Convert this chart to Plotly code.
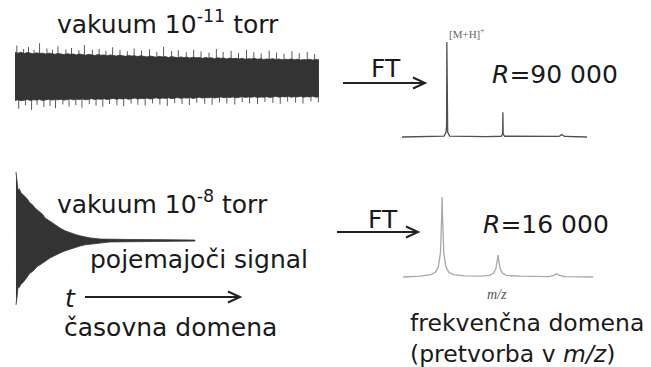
import plotly.graph_objects as go

W, H = 651, 367

# ---- time domain: ion transients (t in ms, amplitude in a.u.) ----
fid_t = list(range(0, 500, 5))
fid_upper = [0.86, 0.84, 0.87, 0.83, 0.86, 0.85, 0.82, 0.85, 0.83, 0.84,
             0.81, 0.84, 0.82, 0.80, 0.83, 0.81, 0.79, 0.82, 0.80, 0.81,
             0.78, 0.81, 0.79, 0.77, 0.80, 0.78, 0.76, 0.79, 0.77, 0.78,
             0.75, 0.78, 0.76, 0.74, 0.77, 0.75, 0.73, 0.76, 0.74, 0.75,
             0.72, 0.75, 0.73, 0.71, 0.74, 0.72, 0.70, 0.73, 0.71, 0.72,
             0.69, 0.72, 0.70, 0.68, 0.71, 0.69, 0.70, 0.67, 0.70, 0.68,
             0.69, 0.66, 0.69, 0.67, 0.68, 0.65, 0.68, 0.66, 0.67, 0.64,
             0.67, 0.65, 0.66, 0.64, 0.66, 0.63, 0.65, 0.64, 0.66, 0.63,
             0.65, 0.62, 0.64, 0.63, 0.65, 0.62, 0.64, 0.61, 0.63, 0.62,
             0.64, 0.61, 0.63, 0.60, 0.62, 0.61, 0.63, 0.60, 0.62, 0.61]
fid_lower = [-0.79, -0.77, -0.80, -0.78, -0.76, -0.79, -0.77, -0.78, -0.76, -0.79,
             -0.77, -0.75, -0.78, -0.76, -0.77, -0.75, -0.78, -0.76, -0.74, -0.77,
             -0.75, -0.76, -0.74, -0.77, -0.75, -0.73, -0.76, -0.74, -0.75, -0.73,
             -0.76, -0.74, -0.72, -0.75, -0.73, -0.74, -0.72, -0.75, -0.73, -0.71,
             -0.74, -0.72, -0.73, -0.71, -0.74, -0.72, -0.70, -0.73, -0.71, -0.72,
             -0.70, -0.73, -0.71, -0.69, -0.72, -0.70, -0.71, -0.69, -0.72, -0.70,
             -0.68, -0.71, -0.69, -0.70, -0.68, -0.71, -0.69, -0.67, -0.70, -0.68,
             -0.69, -0.67, -0.70, -0.68, -0.66, -0.69, -0.67, -0.68, -0.66, -0.69,
             -0.67, -0.68, -0.66, -0.69, -0.67, -0.65, -0.68, -0.66, -0.67, -0.65,
             -0.68, -0.66, -0.67, -0.65, -0.68, -0.66, -0.67, -0.65, -0.68, -0.66]

# noise spikes poking out of the envelope
spk_up_t = [3, 14, 22, 31, 40, 52, 61, 70, 83, 92, 104, 113, 126, 137, 148,
            159, 171, 183, 194, 206, 219, 231, 242, 255, 266, 279, 291, 303, 316, 328,
            339, 352, 364, 377, 389, 401, 414, 426, 438, 451, 463, 476, 488]
spk_up = [1.10, 0.98, 1.05, 0.95, 1.18, 1.00, 0.96, 1.08, 0.97, 1.02, 0.94, 1.12, 0.96, 0.99, 0.92,
          1.04, 0.95, 0.90, 1.00, 0.93, 0.97, 0.88, 1.06, 0.91, 0.94, 0.87, 0.96, 0.90, 0.86, 0.98,
          0.88, 0.92, 0.85, 0.95, 0.87, 0.83, 0.93, 0.86, 0.82, 0.90, 0.84, 0.88, 0.81]
spk_dn_t = [6, 17, 27, 36, 47, 57, 66, 78, 88, 99, 109, 121, 132, 143, 154,
            166, 177, 189, 200, 212, 224, 236, 248, 260, 272, 284, 296, 309, 321, 333,
            345, 358, 370, 382, 395, 407, 420, 432, 444, 457, 469, 482, 494]
spk_dn = [-1.08, -0.96, -1.12, -0.94, -1.02, -0.98, -1.06, -0.93, -1.00, -0.95, -1.04, -0.92, -0.97, -1.01, -0.91,
          -0.96, -0.99, -0.90, -0.94, -0.97, -0.89, -0.93, -0.98, -0.88, -0.92, -0.95, -0.87, -0.91, -0.94, -0.86,
          -0.90, -0.93, -0.85, -0.89, -0.92, -0.84, -0.88, -0.91, -0.83, -0.87, -0.90, -0.82, -0.86]

# decaying transient at the higher pressure
dec_t = [1.6, 3.3, 4.9, 7, 9.8, 12, 16.3, 19, 24.4, 28, 32.6, 36, 40.7, 45, 48.9,
         53, 57, 65, 73.3, 81, 89.6, 98, 105.9, 114, 122.2, 138.5, 154.8, 187, 236, 293]
dec_upper = [2.36, 1.98, 1.74, 1.78, 1.64, 1.60, 1.50, 1.46, 1.29, 1.24, 1.12, 1.06,
             0.95, 0.90, 0.78, 0.72, 0.64, 0.54, 0.43, 0.34, 0.26, 0.21, 0.16, 0.12,
             0.09, 0.05, 0.04, 0.035, 0.03, 0.015]
dec_lower = [-2.22, -1.95, -1.60, -1.62, -1.50, -1.47, -1.36, -1.30, -1.12, -1.08,
             -0.98, -0.90, -0.84, -0.78, -0.71, -0.66, -0.60, -0.51, -0.43, -0.36,
             -0.29, -0.24, -0.19, -0.15, -0.12, -0.09, -0.05, -0.04, -0.035, -0.02]

# ---- frequency domain: spectra (m/z, relative intensity) ----
hr_mz = [499.2, 499.5, 499.8, 499.95, 499.985, 499.995, 500.0, 500.005, 500.015,
         500.05, 500.3, 500.7, 500.97, 500.995, 501.0, 501.005, 501.03, 501.5,
         502.0, 502.05, 502.1, 502.5]
hr_int = [0.0, 0.005, 0.004, 0.01, 0.05, 0.12, 1.0, 0.12, 0.05,
          0.01, 0.005, 0.004, 0.008, 0.03, 0.26, 0.03, 0.008, 0.004,
          0.006, 0.025, 0.006, 0.0]

lr_mz = [499.3, 499.6, 499.8, 499.88, 499.93, 499.97, 499.99, 500.0, 500.01, 500.03,
         500.07, 500.12, 500.2, 500.4, 500.7, 500.85, 500.92, 500.96, 500.99, 501.0,
         501.01, 501.04, 501.08, 501.15, 501.4, 501.9, 502.0, 502.05, 502.1, 502.2, 502.7]
lr_int = [0.0, 0.01, 0.03, 0.06, 0.12, 0.3, 0.7, 1.0, 0.7, 0.3,
          0.12, 0.06, 0.03, 0.015, 0.01, 0.02, 0.05, 0.1, 0.22, 0.275,
          0.22, 0.1, 0.05, 0.02, 0.01, 0.005, 0.02, 0.04, 0.02, 0.005, 0.0]

DARK = "#333333"
TEXT = "#1a1a1a"
SANS = "DejaVu Sans"
SERIF = "Liberation Serif"


def fx(px):
    return px / W


def fy(py):
    return 1 - py / H


def ydom(zero_px, unit_px, lo, hi):
    return [fy(zero_px - lo * unit_px), fy(zero_px - hi * unit_px)]


def sticks(ts, vals):
    xs, ys = [], []
    for t, v in zip(ts, vals):
        xs += [t, t, None]
        ys += [0, v, None]
    return xs, ys


fig = go.Figure()

# long transient: spikes first, then the filled envelope body on top
sx, sy = sticks(spk_up_t + spk_dn_t, spk_up + spk_dn)
fig.add_trace(go.Scatter(x=sx, y=sy, mode="lines",
                         line=dict(color="#5a5a5a", width=1),
                         xaxis="x", yaxis="y", hoverinfo="skip"))
fig.add_trace(go.Scatter(x=fid_t, y=fid_lower, mode="lines",
                         line=dict(color=DARK, width=0.8),
                         xaxis="x", yaxis="y", hoverinfo="skip"))
fig.add_trace(go.Scatter(x=fid_t, y=fid_upper, mode="lines",
                         line=dict(color=DARK, width=0.8),
                         fill="tonexty", fillcolor=DARK,
                         xaxis="x", yaxis="y", hoverinfo="skip"))

# decaying transient as a closed envelope
fig.add_trace(go.Scatter(x=dec_t + dec_t[::-1], y=dec_upper + dec_lower[::-1],
                         mode="lines", fill="toself", fillcolor=DARK,
                         line=dict(color=DARK, width=0.8),
                         xaxis="x", yaxis="y2", hoverinfo="skip"))

# spectra
fig.add_trace(go.Scatter(x=hr_mz, y=hr_int, mode="lines",
                         line=dict(color="#505050", width=1.3),
                         xaxis="x3", yaxis="y3", hoverinfo="skip"))
fig.add_trace(go.Scatter(x=lr_mz, y=lr_int, mode="lines",
                         line=dict(color="#a8a8a8", width=1.3),
                         xaxis="x4", yaxis="y4", hoverinfo="skip"))

hidden = dict(visible=False, fixedrange=True)
fig.update_layout(
    width=W, height=H,
    margin=dict(l=0, r=0, t=0, b=0),
    paper_bgcolor="white", plot_bgcolor="rgba(0,0,0,0)",
    showlegend=False,
    xaxis=dict(domain=[fx(15), fx(322)], range=[0, 500], anchor="y", **hidden),
    yaxis=dict(domain=ydom(77.5, 29, -2.4, 2.4), range=[-2.4, 2.4], anchor="x", **hidden),
    yaxis2=dict(domain=ydom(240.5, 29, -2.4, 2.4), range=[-2.4, 2.4], anchor="x", **hidden),
    xaxis3=dict(domain=[fx(402), fx(587)], range=[499.2, 502.5], anchor="y3", **hidden),
    yaxis3=dict(domain=ydom(137, 95, -0.1, 1.1), range=[-0.1, 1.1], anchor="x3", **hidden),
    xaxis4=dict(domain=[fx(403), fx(593)], range=[499.3, 502.7], anchor="y4", **hidden),
    yaxis4=dict(domain=ydom(277, 80, -0.1, 1.1), range=[-0.1, 1.1], anchor="x4", **hidden),
)


def label(text, px, py, size=25, family=SANS, color=TEXT):
    fig.add_annotation(text=text, x=fx(px), y=fy(py), xref="paper", yref="paper",
                       xanchor="left", yanchor="middle", align="left", showarrow=False,
                       font=dict(family=family, size=size, color=color))


def arrow(tail_px, tip_px, py, head=12, half=5.5):
    line = dict(color="#222222", width=2)
    fig.add_shape(type="line", xref="paper", yref="paper",
                  x0=fx(tail_px), x1=fx(tip_px - 1), y0=fy(py), y1=fy(py), line=line)
    fig.add_shape(type="path", xref="paper", yref="paper", line=line,
                  path=(f"M {fx(tip_px - head)} {fy(py - half)} "
                        f"L {fx(tip_px)} {fy(py)} "
                        f"L {fx(tip_px - head)} {fy(py + half)}"))


label("vakuum 10<sup>-11</sup> torr", 55, 22.5)
label("vakuum 10<sup>-8</sup> torr", 55, 202)
label("pojemajoči signal", 88, 259)
label("<i>t</i>", 63, 298)
label("časovna domena", 62, 327)
label("frekvenčna domena<br>(pretvorba v <i>m/z</i>)", 408, 338, size=23.5)
label("FT", 369, 68.5)
label("FT", 366, 219)
label("<i>R</i>=90 000", 490, 74.5)
label("<i>R</i>=16 000", 481, 224.5)
label("[M+H]<sup>+</sup>", 447, 32.5, size=11, family=SERIF, color="#666666")
label("<i>m/z</i>", 485, 294, size=14, family=SERIF, color="#555555")

arrow(343, 425, 83)
arrow(337, 418, 232)
arrow(85, 240, 297)

fig.write_html("out.html")
